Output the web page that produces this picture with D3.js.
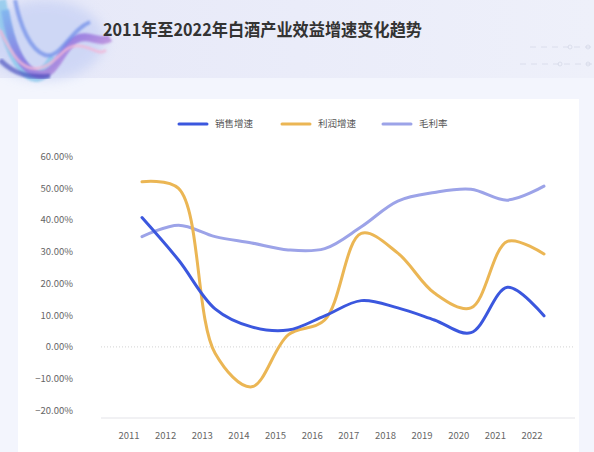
<!DOCTYPE html>
<html><head><meta charset="utf-8">
<script src="https://cdn.jsdelivr.net/npm/d3@7"></script>
<style>
html,body{margin:0;padding:0;background:#f3f5fc;}
svg{display:block;font-family:"Noto Sans CJK SC","Noto Sans",sans-serif;}
</style></head>
<body>
<svg id="c" width="594" height="452"></svg>
<script>
const years = ["2011","2012","2013","2014","2015","2016","2017","2018","2019","2020","2021","2022"];
const salesGrowth  = [40.8, 27.4, 12.0, 6.3, 5.3, 9.8, 14.6, 12.3, 8.5, 4.5, 18.8, 9.8];
const profitGrowth = [52.1, 50.0, -2.0, -12.6, 3.8, 8.5, 35.8, 29.6, 17.0, 12.3, 33.3, 29.3];
const grossMargin  = [34.8, 38.4, 34.8, 32.8, 30.6, 31.0, 37.9, 46.0, 48.7, 49.7, 46.3, 50.7];
const yTicks = [-20, -10, 0, 10, 20, 30, 40, 50, 60];
const seriesNames = ["销售增速", "利润增速", "毛利率"];
const title = "2011年至2022年白酒产业效益增速变化趋势";

const colors = ["#3b57de", "#ebb654", "#9ca3e8"];
const svg = d3.select("#c");
const defs = svg.append("defs");

// header background
const hg = defs.append("linearGradient").attr("id","hg").attr("x1",0).attr("x2",1).attr("y1",0).attr("y2",0);
hg.append("stop").attr("offset","0").attr("stop-color","#e6e8f8");
hg.append("stop").attr("offset","1").attr("stop-color","#eef0fa");
svg.append("rect").attr("x",0).attr("y",0).attr("width",594).attr("height",78).attr("fill","url(#hg)");
svg.append("rect").attr("x",0).attr("y",78).attr("width",594).attr("height",374).attr("fill","#f3f5fd");

// left decorative swirl
const blur = defs.append("filter").attr("id","bl").attr("x","-50%").attr("y","-50%").attr("width","200%").attr("height","200%");
blur.append("feGaussianBlur").attr("stdDeviation",6);
const blur2 = defs.append("filter").attr("id","bl2");
blur2.append("feGaussianBlur").attr("stdDeviation",1.2);
const sg = defs.append("linearGradient").attr("id","sg").attr("x1",0).attr("x2",1).attr("y1",0).attr("y2",1);
sg.append("stop").attr("offset","0").attr("stop-color","#7fb3f0");
sg.append("stop").attr("offset","0.5").attr("stop-color","#8a6fe0");
sg.append("stop").attr("offset","1").attr("stop-color","#e9a6d6");
const deco = svg.append("g");
deco.append("ellipse").attr("cx",45).attr("cy",40).attr("rx",60).attr("ry",40).attr("fill","#c9d3f5").attr("filter","url(#bl)").attr("opacity",0.8);
deco.append("path").attr("d","M0,0 C5,30 12,60 30,74 C40,80 48,70 55,58")
  .attr("fill","none").attr("stroke","#7ec4ea").attr("stroke-width",12).attr("filter","url(#bl2)").attr("opacity",0.7);
deco.append("path").attr("d","M5,10 C10,40 20,70 38,74 C55,78 60,50 75,40 C88,32 100,45 110,38")
  .attr("fill","none").attr("stroke","url(#sg)").attr("stroke-width",8).attr("filter","url(#bl2)").attr("opacity",0.85);
deco.append("path").attr("d","M0,30 C12,55 22,72 40,68 C58,64 62,44 80,46 C92,47 100,56 106,50")
  .attr("fill","none").attr("stroke","#f2b8d8").attr("stroke-width",3).attr("filter","url(#bl2)").attr("opacity",0.8);
deco.append("path").attr("d","M15,0 C20,25 30,50 45,55 C60,60 70,30 90,22")
  .attr("fill","none").attr("stroke","#5d7fe6").attr("stroke-width",4).attr("filter","url(#bl2)").attr("opacity",0.6);
deco.append("path").attr("d","M0,60 C15,75 30,78 50,76")
  .attr("fill","none").attr("stroke","#3a3fb8").attr("stroke-width",5).attr("filter","url(#bl2)").attr("opacity",0.6);

// right faint circuit decoration
const rd = svg.append("g").attr("stroke","#d6d9e8").attr("stroke-width",0.8).attr("fill","none");
[[530,47,594,47],[520,64,594,64]].forEach(l=>rd.append("line").attr("x1",l[0]).attr("y1",l[1]).attr("x2",l[2]).attr("y2",l[3]).attr("stroke-dasharray","6,5"));
[[570,47],[588,47],[560,64],[588,64]].forEach(c=>rd.append("circle").attr("cx",c[0]).attr("cy",c[1]).attr("r",2));

// title
svg.append("text").attr("x",103).attr("y",36).attr("font-size",17.6).attr("font-weight","bold")
  .attr("textLength",319).attr("lengthAdjust","spacingAndGlyphs")
  .attr("fill","#333").text(title);

// card
svg.append("rect").attr("x",18).attr("y",99).attr("width",561).attr("height",360).attr("fill","#fff");

// scales
const x = d3.scalePoint().domain(years).range([142, 544]);
const xl = d3.scalePoint().domain(years).range([129, 532]);
const y = d3.scaleLinear().domain([-20, 60]).range([410.3, 156.7]);

// y axis labels
svg.append("g").selectAll("text").data(yTicks).join("text")
  .attr("x",73).attr("y",d=>y(d)).attr("dy","0.35em").attr("text-anchor","end")
  .attr("font-size",9.5).attr("fill","#666").text(d=>d3.format(".2f")(d)+"%");

// zero line
svg.append("line").attr("x1",101).attr("x2",575).attr("y1",y(0)).attr("y2",y(0))
  .attr("stroke","#c8c8c8").attr("stroke-width",0.8).attr("stroke-dasharray","1,2");
// x axis line
svg.append("line").attr("x1",101).attr("x2",575).attr("y1",418).attr("y2",418)
  .attr("stroke","#e3e3e8").attr("stroke-width",1);
// x labels
svg.append("g").selectAll("text").data(years).join("text")
  .attr("x",d=>xl(d)).attr("y",439).attr("text-anchor","middle")
  .attr("font-size",9.5).attr("fill","#666").text(d=>d);

// lines
const line = d3.line().x((d,i)=>x(years[i])).y(d=>y(d)).curve(d3.curveCatmullRom.alpha(0.5));
const series = [salesGrowth, profitGrowth, grossMargin];
[2,1,0].forEach(k=>{
  svg.append("path").attr("d",line(series[k])).attr("fill","none")
    .attr("stroke",colors[k]).attr("stroke-width",3).attr("stroke-linecap","round").attr("stroke-linejoin","round");
});

// legend
const legX = [179, 282, 383];
const lg = svg.append("g");
seriesNames.forEach((n,i)=>{
  lg.append("line").attr("x1",legX[i]).attr("x2",legX[i]+28).attr("y1",124).attr("y2",124)
    .attr("stroke",colors[i]).attr("stroke-width",3).attr("stroke-linecap","round");
  lg.append("text").attr("x",legX[i]+36).attr("y",124).attr("dy","0.35em")
    .attr("font-size",9.5).attr("fill","#555").text(n);
});
</script>
</body></html>
